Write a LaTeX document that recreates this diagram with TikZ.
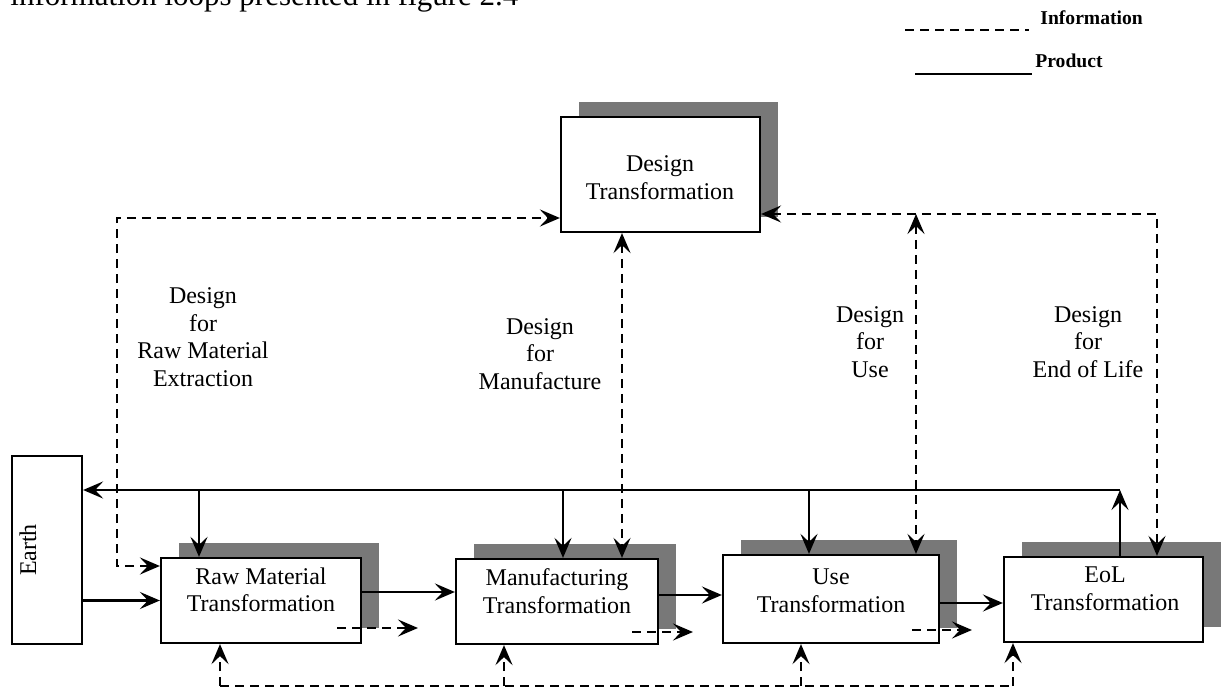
\documentclass[tikz,border=0pt]{standalone}
\usepackage{fontspec}
\setmainfont{Liberation Serif}
\usetikzlibrary{arrows.meta,shadows}
\definecolor{shade}{gray}{0.47}
\begin{document}
\begin{tikzpicture}[x=0.5pt,y=-0.5pt,
  >={Stealth[length=10pt,width=8.5pt,inset=4pt]},
  stage/.style={draw, line width=1.1pt, fill=white, inner sep=0pt,
    general shadow={fill=shade, shadow xshift=9pt, shadow yshift=7.5pt}},
  plain/.style={draw, line width=1.1pt, fill=white, inner sep=0pt},
  txt/.style={align=center, font=\fontsize{12}{13.75}\selectfont, inner sep=0pt},
  legendtxt/.style={anchor=base west, font=\bfseries\fontsize{9.8}{11}\selectfont, inner sep=0pt},
  prod/.style={line width=1.3pt},
  info/.style={line width=1.3pt, dash pattern=on 4.5pt off 3pt}]
\useasboundingbox (0,0) rectangle (1221,689);

% running text above the figure
\node[anchor=base west, font=\fontsize{15.5}{18}\selectfont, inner sep=0pt] (caption)
  at (10,6) {information loops presented in figure 2.4};

% legend
\coordinate (li0) at (905,30);
\coordinate (li1) at (1029,30);
\coordinate (lp0) at (915,74);
\coordinate (lp1) at (1032,74);
\draw[info] (li0) -- (li1);
\draw[prod] (lp0) -- (lp1);
\node[legendtxt] (linfo) at (1040,25) {Information};
\node[legendtxt] (lprod) at (1035,68) {Product};

% boxes
\node[stage, minimum width=99.5pt, minimum height=57.5pt] (dt) at (660.5,174.5) {};
\node[plain, minimum width=35pt, minimum height=94pt] (earth) at (47,550) {};
\node[stage, minimum width=100pt, minimum height=42.5pt] (rm) at (261,600.5) {};
\node[stage, minimum width=101pt, minimum height=42.5pt] (mf) at (557,601.5) {};
\node[stage, minimum width=108pt, minimum height=44pt] (use) at (831,599) {};
\node[stage, minimum width=99.5pt, minimum height=42.5pt] (eol) at (1103.5,599.5) {};

% box texts
\node[txt] (dtl) at (660,177.5) {Design\\Transformation};
\node[txt, rotate=90] (earthl) at (28,550) {Earth};
\node[txt] (rml) at (261,590) {Raw Material\\Transformation};
\node[txt] (mfl) at (557,591) {Manufacturing\\Transformation};
\node[txt] (usel) at (831,591) {Use\\Transformation};
\node[txt] (eoll) at (1105,589) {EoL\\Transformation};

% loop labels
\node[txt] (l1) at (203,337) {Design\\for\\Raw Material\\Extraction};
\node[txt] (l2) at (540,354) {Design\\for\\Manufacture};
\node[txt] (l3) at (870,342) {Design\\for\\Use};
\node[txt] (l4) at (1088,342) {Design\\for\\End of Life};

% product return line
\coordinate (ret) at (1120,490);
\coordinate (j1) at (199,490);
\coordinate (j2) at (563,490);
\coordinate (j3) at (809,490);
\draw[prod,->] (eol.north -| ret) -- (ret);
\draw[prod,->] (ret) -- (ret -| earth.east);
\draw[prod,->] (j1) -- (j1 |- rm.north);
\draw[prod,->] (j2) -- (j2 |- mf.north);
\draw[prod,->] (j3) -- (j3 |- use.north);

% product flow between stages
\draw[prod,->] (earth.east |- rm.west) -- (rm.west);
\draw[prod,->] ([yshift=4.25pt]rm.east) -- ([yshift=4.25pt]rm.east -| mf.west);
\draw[prod,->] ([yshift=3.25pt]mf.east) -- ([yshift=3.25pt]mf.east -| use.west);
\draw[prod,->] ([yshift=-2pt]use.east) -- ([yshift=-2pt]use.east -| eol.west);

% information leaving each stage
\coordinate (o1a) at (337,628);  \coordinate (o1b) at (418,628);
\coordinate (o2a) at (632,632);  \coordinate (o2b) at (693,632);
\coordinate (o3a) at (912,630);  \coordinate (o3b) at (972,630);
\draw[info,->] (o1a) -- (o1b);
\draw[info,->] (o2a) -- (o2b);
\draw[info,->] (o3a) -- (o3b);

% design information loops
\coordinate (dl) at (117,218);
\coordinate (dr) at (1157,214);
\coordinate (vm) at (622,400);
\coordinate (vu) at (916,214);
\draw[info,<->] ([yshift=17.25pt]rm.west) -| (dl) -- (dl -| dt.west);
\draw[info,<->] (vm |- dt.south) -- (vm |- mf.north);
\draw[info,<->] ([yshift=-19.75pt]dt.east) -- (dr) -- (dr |- eol.north);
\draw[info,<->] (vu) -- (vu |- use.north);

% bottom information line
\coordinate (b1) at (220,686);
\coordinate (b2) at (504,686);
\coordinate (b3) at (801,686);
\coordinate (b4) at (1013,686);
\draw[info] (b1) -- (b4);
\draw[info,->] (b1) -- (b1 |- rm.south);
\draw[info,->] (b2) -- (b2 |- mf.south);
\draw[info,->] (b3) -- (b3 |- use.south);
\draw[info,->] (b4) -- (b4 |- eol.south);
\end{tikzpicture}
\end{document}
